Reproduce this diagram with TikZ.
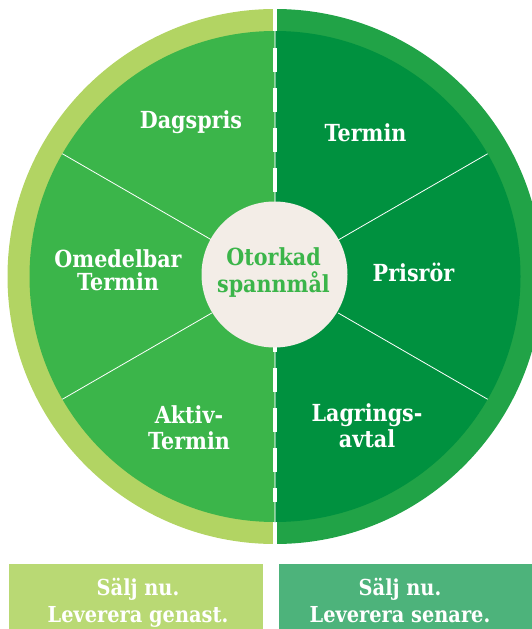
\documentclass[tikz,border=0pt]{standalone}
\usepackage{fontspec}
\usetikzlibrary{calc}
\newfontfamily\labfont[FakeStretch=0.88]{DejaVu Serif}
\definecolor{ringL}{HTML}{B2D463}
\definecolor{inL}{HTML}{3BB54A}
\definecolor{ringR}{HTML}{21A347}
\definecolor{inR}{HTML}{00913F}
\definecolor{hub}{HTML}{F3EDE7}
\definecolor{boxL}{HTML}{B9D974}
\definecolor{boxR}{HTML}{4DB37B}
\tikzset{
  lbl/.style={text=white, font=\labfont\bfseries\fontsize{23.5}{26}\selectfont, align=center, inner sep=0pt, anchor=base},
  hubtxt/.style={lbl, text=inL, font=\labfont\bfseries\fontsize{23.5}{27}\selectfont},
  boxtxt/.style={lbl, font=\labfont\bfseries\fontsize{22}{27}\selectfont},
  spoke/.style={white, line width=0.8pt},
}
\begin{document}
\begin{tikzpicture}[x=1pt, y=-1pt]
\useasboundingbox (0,0) rectangle (532,629);
\coordinate (c) at (275,276.5);
% outer ring
\begin{scope}
  \clip (c) circle (267.5);
  \fill[ringL] (0,0) rectangle (273,560);
  \fill[ringR] (277,0) rectangle (560,560);
\end{scope}
% inner disk
\begin{scope}
  \clip (c) circle (245.5);
  \fill[inL] (0,0) rectangle (275,560);
  \fill[inR] (275,0) rectangle (560,560);
  \draw[white, opacity=0.45, line width=1.2pt] (275,0) -- (275,560);
\end{scope}
\draw[white, line width=3.5pt, dash pattern=on 24pt off 16pt] (275,48) -- (275,502);
% spokes
\foreach \a in {30,150,210,330}
  \draw[spoke] ($(c)+(\a:245.5)$) -- ($(c)+(\a:73)$);
% hub
\node[circle, fill=hub, minimum size=146pt, inner sep=0pt] (hub) at (274.5,274.5) {};
\node[hubtxt] (hubt) at (273.5,292) {Otorkad\\spannmål};
% labels
\node[lbl] (dags) at (191,128) {Dagspris};
\node[lbl] (term) at (365.5,141) {Termin};
\node[lbl, font=\labfont\bfseries\fontsize{23.5}{23}\selectfont] (omed) at (118,290) {Omedelbar\\Termin};
\node[lbl] (pris) at (413.5,281) {Prisrör};
\node[lbl] (aktiv) at (189,449) {Aktiv-\\Termin};
\node[lbl] (lagr) at (367,447) {Lagrings-\\avtal};
% boxes
\fill[boxL] (9,564) rectangle (263,629);
\fill[boxR] (279,564) rectangle (532,629);
\node[boxtxt] (bl) at (138,622) {Sälj nu.\\Leverera genast.};
\node[boxtxt] (br) at (400,622) {Sälj nu.\\Leverera senare.};
\end{tikzpicture}
\end{document}
